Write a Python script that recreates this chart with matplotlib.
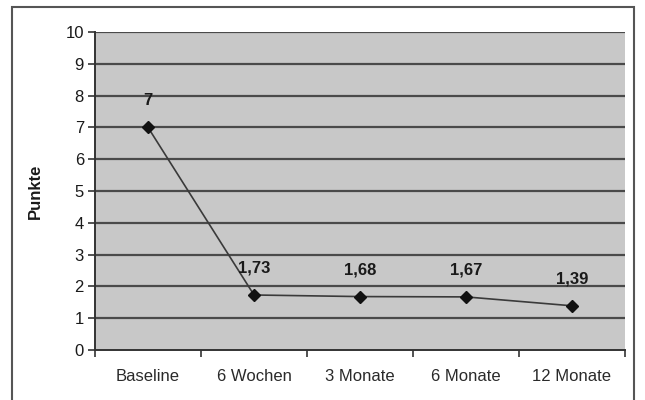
import matplotlib
matplotlib.use("Agg")
import matplotlib.pyplot as plt
from matplotlib.patches import Rectangle
import numpy as np

categories = ["Baseline", "6 Wochen", "3 Monate", "6 Monate", "12 Monate"]
values = [7, 1.73, 1.68, 1.67, 1.39]
value_labels = ["7", "1,73", "1,68", "1,67", "1,39"]
y_ticks = list(range(0, 11))

plt.rcParams['font.family'] = ['Liberation Sans', 'DejaVu Sans']

fig = plt.figure(figsize=(6.45, 4.0), dpi=100)
fig.patch.set_facecolor("white")
# outer frame
fig.patches.append(Rectangle((12/645, -0.01), 622/645, (400-7)/400 + 0.01, transform=fig.transFigure,
                             fill=False, edgecolor="#555555", linewidth=1.5))

ax = fig.add_axes([95/645, 50/400, 530/645, 318/400])
ax.set_facecolor("#c8c8c8")
x = np.arange(len(categories))
ax.set_xlim(-0.5, len(categories) - 0.5)
ax.set_ylim(0, 10)

for yv in y_ticks[1:]:
    ax.axhline(yv, color="#4a4a4a", linewidth=1.6, zorder=1)

ax.plot(x, values, color="#3a3a3a", linewidth=1.2, zorder=2)
ax.plot(x, values, linestyle="none", marker="D", markersize=6.5, color="#111111", zorder=3)

for xi, v, lab in zip(x, values, value_labels):
    ax.annotate(lab, (xi, v), xytext=(0, 14), textcoords="offset points",
                ha="center", va="bottom", fontsize=12, fontweight="bold", color="#1a1a1a")

ax.set_yticks(y_ticks)
ax.set_yticklabels([str(t) for t in y_ticks], fontsize=12, color="#1a1a1a")
ax.set_xticks(x)
ax.set_xticklabels(categories, fontsize=12, color="#2a2a2a")
ax.set_xticks(np.arange(-0.5, len(categories)), minor=True)
ax.tick_params(axis="x", which="major", length=0, pad=14)
ax.tick_params(axis="x", which="minor", length=5, width=1.2, color="#333333", direction="out")
ax.tick_params(axis="y", length=5, width=1.2, color="#333333", direction="out", pad=3)

for s in ["top", "right"]:
    ax.spines[s].set_visible(False)
ax.spines["left"].set_color("#333333")
ax.spines["left"].set_linewidth(1.4)
ax.spines["bottom"].set_color("#333333")
ax.spines["bottom"].set_linewidth(1.4)

ax.set_ylabel("Punkte", fontsize=12, fontweight="bold", color="#1a1a1a", labelpad=16)

fig.savefig("out.png", dpi=100)
